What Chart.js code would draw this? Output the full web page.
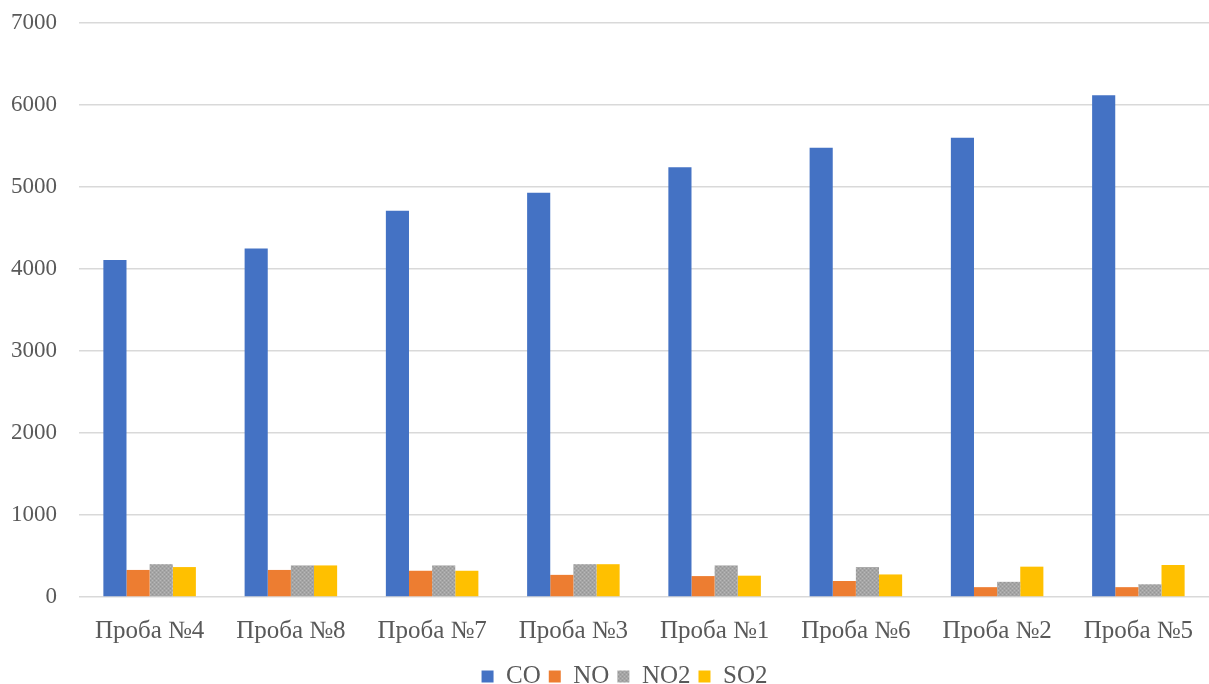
<!DOCTYPE html>
<html>
<head>
<meta charset="utf-8">
<script src="https://cdn.jsdelivr.net/npm/chart.js@4/dist/chart.umd.min.js"></script>
<style>
  html, body { margin: 0; padding: 0; background: #fff; }
  #wrap { width: 1209px; height: 684px; }
</style>
</head>
<body>
<div id="wrap"><canvas id="emissions"></canvas></div>
<script>
const samples = ['Проба №4', 'Проба №8', 'Проба №7', 'Проба №3', 'Проба №1', 'Проба №6', 'Проба №2', 'Проба №5'];
const coValues  = [4110, 4250, 4710, 4930, 5240, 5480, 5600, 6120];
const noValues  = [330, 330, 320, 270, 255, 195, 120, 120];
const no2Values = [400, 385, 385, 400, 385, 365, 185, 155];
const so2Values = [365, 385, 320, 400, 260, 275, 370, 390];
const yTicks = [0, 1000, 2000, 3000, 4000, 5000, 6000, 7000];

const serif = '"Liberation Serif", "Times New Roman", serif';

// dotted grey fill for NO2
function greyPattern() {
    const c = document.createElement('canvas');
    c.width = 4; c.height = 4;
    const g = c.getContext('2d');
    g.fillStyle = '#a5a5a5';
    g.fillRect(0, 0, 4, 4);
    g.fillStyle = '#b8b8b8';
    g.fillRect(0, 0, 1, 1);
    g.fillRect(2, 2, 1, 1);
    g.fillStyle = '#959595';
    g.fillRect(2, 0, 1, 1);
    g.fillRect(0, 2, 1, 1);
    return g.createPattern(c, 'repeat');
}

// nudge the legend a bit right of the canvas centre
const legendShift = {
    id: 'legendShift',
    afterLayout(chart) {
        chart.legend.left += 20;
        chart.legend.right += 20;
    }
};

const ctx = document.getElementById('emissions').getContext('2d');

new Chart(ctx, {
    type: 'bar',
    data: {
        labels: samples,
        datasets: [
            { label: 'CO',  data: coValues,  backgroundColor: '#4472c4' },
            { label: 'NO',  data: noValues,  backgroundColor: '#ed7d31' },
            { label: 'NO2', data: no2Values, backgroundColor: greyPattern() },
            { label: 'SO2', data: so2Values, backgroundColor: '#ffc000' }
        ]
    },
    options: {
        responsive: true,
        maintainAspectRatio: false,
        animation: false,
        datasets: { bar: { barPercentage: 1, categoryPercentage: 0.655 } },
        layout: { padding: { top: 23, right: 0, left: 0, bottom: -15 } },
        plugins: {
            tooltip: { enabled: false },
            legend: {
                position: 'bottom',
                labels: {
                    font: { family: serif, size: 25 },
                    color: '#595959',
                    boxWidth: 12,
                    boxHeight: 12,
                    padding: 8
                }
            }
        },
        scales: {
            x: {
                grid: { display: false },
                border: { display: false },
                afterFit: axis => { axis.height -= 1; },
                ticks: {
                    font: { family: serif, size: 25 },
                    color: '#595959',
                    padding: 11,
                    maxRotation: 0
                }
            },
            y: {
                min: 0,
                max: 7000,
                afterBuildTicks: axis => { axis.ticks = yTicks.map(v => ({ value: v })); },
                afterFit: axis => {
                    axis.width = 79;
                    axis.paddingTop = 0;
                    axis.paddingBottom = 0;
                },
                grid: { color: '#d9d9d9', lineWidth: 1.5, drawTicks: false },
                border: { display: false },
                ticks: {
                    font: { family: serif, size: 23 },
                    color: '#595959',
                    padding: 22,
                    callback: v => String(v)
                }
            }
        }
    },
    plugins: [legendShift]
});
</script>
</body>
</html>
